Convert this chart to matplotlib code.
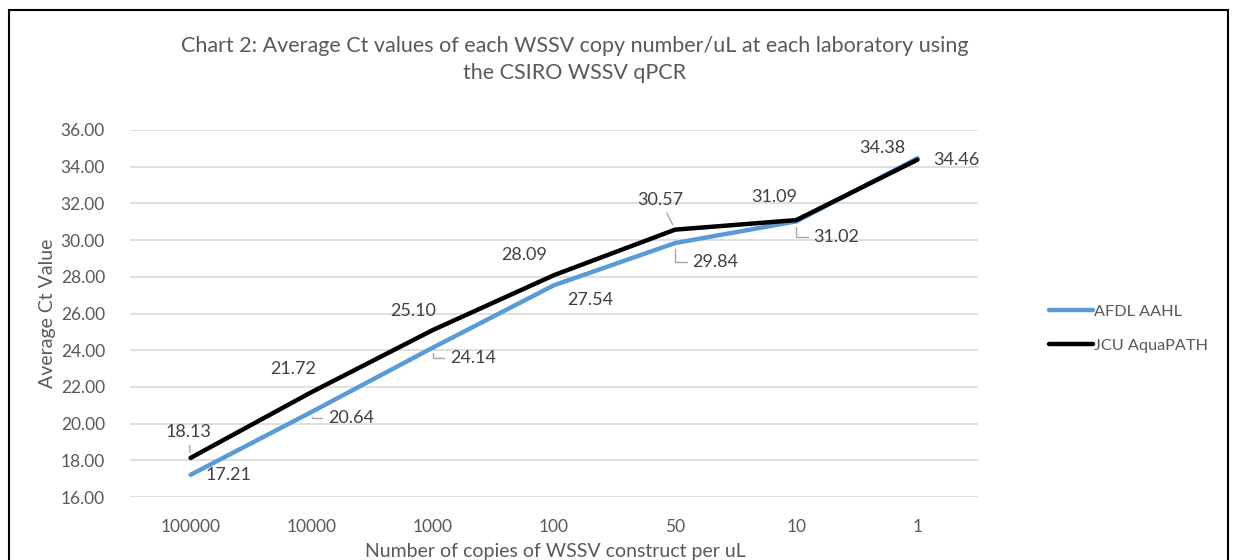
import matplotlib
matplotlib.use("Agg")
import matplotlib.pyplot as plt
from matplotlib.patches import Rectangle

categories = ["100000", "10000", "1000", "100", "50", "10", "1"]
afdl = [17.21, 20.64, 24.14, 27.54, 29.84, 31.02, 34.46]
jcu = [18.13, 21.72, 25.10, 28.09, 30.57, 31.09, 34.38]
yticks = [16, 18, 20, 22, 24, 26, 28, 30, 32, 34, 36]

# label offsets (pixels, +y = up) and leader-line flags
afdl_off = [(38, 0), (39, -6), (40, -10), (36, -15), (40, -19), (40, -16), (39, -2)]
afdl_lead = [False, True, True, False, True, True, False]
jcu_off = [(-2, 26), (-19, 23), (-20, 19), (-30, 20), (-15, 30), (-22, 23), (-35, 12)]
jcu_lead = [True, False, False, False, True, False, False]

plt.rcParams['font.family'] = ['Lato', 'DejaVu Sans']
grey = '#595959'

fig = plt.figure(figsize=(12.35, 5.6), dpi=100)
fig.patches.append(Rectangle((9/1235, -0.1), (1228-9)/1235, 1.1 - 10/560,
                             transform=fig.transFigure, fill=False,
                             edgecolor='black', linewidth=1.5))
ax = fig.add_axes([130/1235, 1-497/560, 848/1235, 367/560])
x = list(range(len(categories)))
ax.plot(x, afdl, color='#5B9BD5', lw=3.2, label='AFDL AAHL', solid_capstyle='round', zorder=3)
ax.plot(x, jcu, color='black', lw=3.2, label='JCU AquaPATH', solid_capstyle='round', zorder=4)

ax.set_xlim(-0.5, len(categories) - 0.5)
ax.set_ylim(16, 36)
ax.set_yticks(yticks)
ax.set_yticklabels([f"{v:.2f}" for v in yticks])
ax.set_xticks(x)
ax.set_xticklabels(categories)
ax.tick_params(length=0, labelsize=12.5, colors=grey)
ax.tick_params(axis='x', pad=16)
ax.tick_params(axis='y', pad=18)
ax.grid(axis='y', color='#D9D9D9', lw=1.2)
ax.set_axisbelow(True)
for s in ax.spines.values():
    s.set_visible(False)

def label(vals, offs, leads, elbow):
    for i, (v, o, l) in enumerate(zip(vals, offs, leads)):
        ap = None
        if l:
            ap = dict(arrowstyle='-', color='#A6A6A6', lw=1, shrinkA=2, shrinkB=4)
            if elbow:
                ap['connectionstyle'] = 'angle,angleA=0,angleB=90,rad=0'
        ax.annotate(f"{v:.2f}", (i, v), xytext=o, textcoords='offset pixels',
                    ha='center', va='center', fontsize=13, color='#404040',
                    arrowprops=ap, zorder=5)

label(afdl, afdl_off, afdl_lead, True)
label(jcu, jcu_off, jcu_lead, False)

fig.text(48/1235, 1-313/560, "Average Ct Value", rotation=90, ha='center', va='center',
         fontsize=14, color=grey)
fig.text(555/1235, 1-552/560, "Number of copies of WSSV construct per uL", ha='center', va='center',
         fontsize=14, color=grey)
fig.text(575/1235, 1-46/560, "Chart 2: Average Ct values of each WSSV copy number/uL at each laboratory using",
         ha='center', va='center', fontsize=15.5, color=grey)
fig.text(575/1235, 1-73/560, "the CSIRO WSSV qPCR", ha='center', va='center', fontsize=15.5, color=grey)

leg = ax.legend(loc='center left', bbox_to_anchor=(1.067, 0.459), frameon=False,
                fontsize=11.7, handlelength=2.7, handletextpad=0.05, labelspacing=1.2)
for t in leg.get_texts():
    t.set_color(grey)

fig.savefig("out.png", dpi=100)
